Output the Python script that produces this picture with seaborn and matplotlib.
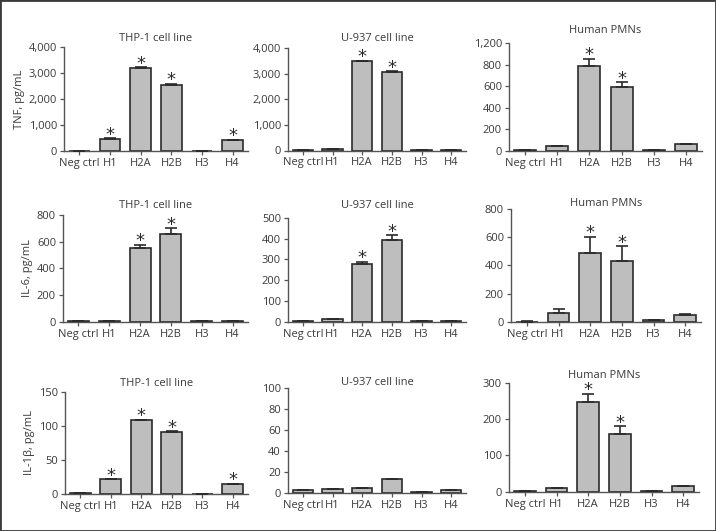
import numpy as np
import matplotlib
matplotlib.use('Agg')
import matplotlib.pyplot as plt
import seaborn as sns
from matplotlib.patches import Rectangle

# 데이터
groups = ['Neg ctrl', 'H1', 'H2A', 'H2B', 'H3', 'H4']
cells = ['THP-1 cell line', 'U-937 cell line', 'Human PMNs']
ylabels = ['TNF, pg/mL', 'IL-6, pg/mL', 'IL-1β, pg/mL']

# TNF
tnf_thp1 = [0, 450, 3190, 2550, 5, 400]
tnf_thp1_err = [0, 25, 20, 25, 0, 20]
tnf_thp1_sig = [0, 1, 1, 1, 0, 1]
tnf_u937 = [35, 60, 3490, 3070, 10, 25]
tnf_u937_err = [0, 0, 20, 25, 0, 0]
tnf_u937_sig = [0, 0, 1, 1, 0, 0]
tnf_pmn = [2, 40, 790, 588, 8, 58]
tnf_pmn_err = [0, 5, 62, 46, 2, 5]
tnf_pmn_sig = [0, 0, 1, 1, 0, 0]

# IL-6
il6_thp1 = [2, 4, 555, 655, 2, 3]
il6_thp1_err = [0, 0, 22, 45, 0, 0]
il6_thp1_sig = [0, 0, 1, 1, 0, 0]
il6_u937 = [4, 12, 276, 394, 3, 3]
il6_u937_err = [0, 0, 14, 24, 0, 0]
il6_u937_sig = [0, 0, 1, 1, 0, 0]
il6_pmn = [1, 59, 485, 431, 12, 50]
il6_pmn_err = [5, 29, 118, 106, 3, 2]
il6_pmn_sig = [0, 0, 1, 1, 0, 0]

# IL-1β
il1b_thp1 = [1, 21.4, 108.7, 91.3, 0.5, 14.6]
il1b_thp1_err = [0, 0.5, 0.5, 0.8, 0, 0.5]
il1b_thp1_sig = [0, 1, 1, 1, 0, 1]
il1b_u937 = [3.1, 3.5, 5, 13.2, 1, 3.1]
il1b_u937_err = [0, 0, 0, 0, 0, 0]
il1b_u937_sig = [0, 0, 0, 0, 0, 0]
il1b_pmn = [1, 10, 247, 159, 1, 15]
il1b_pmn_err = [0, 0, 23, 22, 0, 1]
il1b_pmn_sig = [0, 0, 1, 1, 0, 0]

# y축 눈금
tnf_ticks = [0, 1000, 2000, 3000, 4000]
tnf_pmn_ticks = [0, 200, 400, 600, 800, 1000]
tnf_pmn_ticklabels = ['0', '200', '400', '600', '800', '1,200']
il6_thp1_ticks = [0, 200, 400, 600, 800]
il6_u937_ticks = [0, 100, 200, 300, 400, 500]
il6_pmn_ticks = [0, 200, 400, 600, 800]
il1b_thp1_ticks = [0, 50, 100, 150]
il1b_u937_ticks = [0, 20, 40, 60, 80, 100]
il1b_pmn_ticks = [0, 100, 200, 300]

panels = [
    [(tnf_thp1, tnf_thp1_err, tnf_thp1_sig, tnf_ticks, None),
     (tnf_u937, tnf_u937_err, tnf_u937_sig, tnf_ticks, None),
     (tnf_pmn, tnf_pmn_err, tnf_pmn_sig, tnf_pmn_ticks, tnf_pmn_ticklabels)],
    [(il6_thp1, il6_thp1_err, il6_thp1_sig, il6_thp1_ticks, None),
     (il6_u937, il6_u937_err, il6_u937_sig, il6_u937_ticks, None),
     (il6_pmn, il6_pmn_err, il6_pmn_sig, il6_pmn_ticks, None)],
    [(il1b_thp1, il1b_thp1_err, il1b_thp1_sig, il1b_thp1_ticks, None),
     (il1b_u937, il1b_u937_err, il1b_u937_sig, il1b_u937_ticks, None),
     (il1b_pmn, il1b_pmn_err, il1b_pmn_sig, il1b_pmn_ticks, None)],
]

# 레이아웃 (픽셀: left, top, right, bottom)
boxes = [
    [(64, 47, 248, 150.7), (288, 48, 466, 150.5), (509, 43, 702, 150.7)],
    [(63, 215, 248, 321.7), (288, 218, 466, 321.7), (511, 209, 701, 321.7)],
    [(65, 391.7, 248, 494), (288, 387.7, 466, 493), (509, 383, 699, 491.7)],
]
title_offsets = [[11, 12, 15], [12, 15, 4], [11, 7, 10]]

W, H = 716, 531
sns.set_style('ticks')
plt.rcParams['font.family'] = ['Open Sans', 'DejaVu Sans']
plt.rcParams['font.size'] = 8
text_color = '#3a3a3a'
line_color = '#555555'
bar_color = '#bebebe'
edge_color = '#2b2b2b'

fig = plt.figure(figsize=(W / 100, H / 100), dpi=100)
fig.patch.set_facecolor('white')

for r in range(3):
    for c in range(3):
        vals, errs, sig, ticks, ticklabels = panels[r][c]
        l, t, rr, b = boxes[r][c]
        ax = fig.add_axes([l / W, 1 - b / H, (rr - l) / W, (b - t) / H])
        sns.barplot(x=groups, y=vals, color=bar_color, edgecolor=edge_color,
                    linewidth=1.2, width=0.68, saturation=1, ax=ax)
        x = np.arange(len(groups))
        ax.errorbar(x, vals, yerr=[np.zeros(len(errs)), errs], fmt='none',
                    ecolor=edge_color, elinewidth=1.2, capsize=4, capthick=1.2,
                    zorder=5)
        for i in range(len(groups)):
            if sig[i]:
                ax.annotate('*', xy=(i, vals[i] + errs[i]), xytext=(0, -4),
                            textcoords='offset points', ha='center', va='bottom',
                            fontsize=13, color=edge_color, family=['DejaVu Sans'])
        ax.set_xlim(-0.5, 5.5)
        ax.set_ylim(0, ticks[-1])
        ax.set_yticks(ticks)
        if ticklabels is None:
            ax.set_yticklabels([f'{v:,}' for v in ticks])
        else:
            ax.set_yticklabels(ticklabels)
        ax.set_xticks(x)
        ax.set_xticklabels(groups)
        sns.despine(ax=ax)
        for s in ['left', 'bottom']:
            ax.spines[s].set_color(line_color)
            ax.spines[s].set_linewidth(1.0)
        ax.tick_params(axis='both', direction='out', length=3, width=0.9,
                       color=line_color, labelcolor=text_color, labelsize=8, pad=2)
        ax.set_title(cells[c], fontsize=8, color=text_color,
                     pad=max(title_offsets[r][c] - 5, 0) * 0.72)
        if c == 0:
            ax.set_ylabel(ylabels[r], fontsize=8, color=text_color, labelpad=3)
        else:
            ax.set_ylabel('')
        ax.set_xlabel('')

fig.patches.append(Rectangle((0, 0), 1, 1, transform=fig.transFigure,
                             fill=False, edgecolor='#3a3a3a', linewidth=2))

plt.savefig('out.png', dpi=100)
plt.close()
